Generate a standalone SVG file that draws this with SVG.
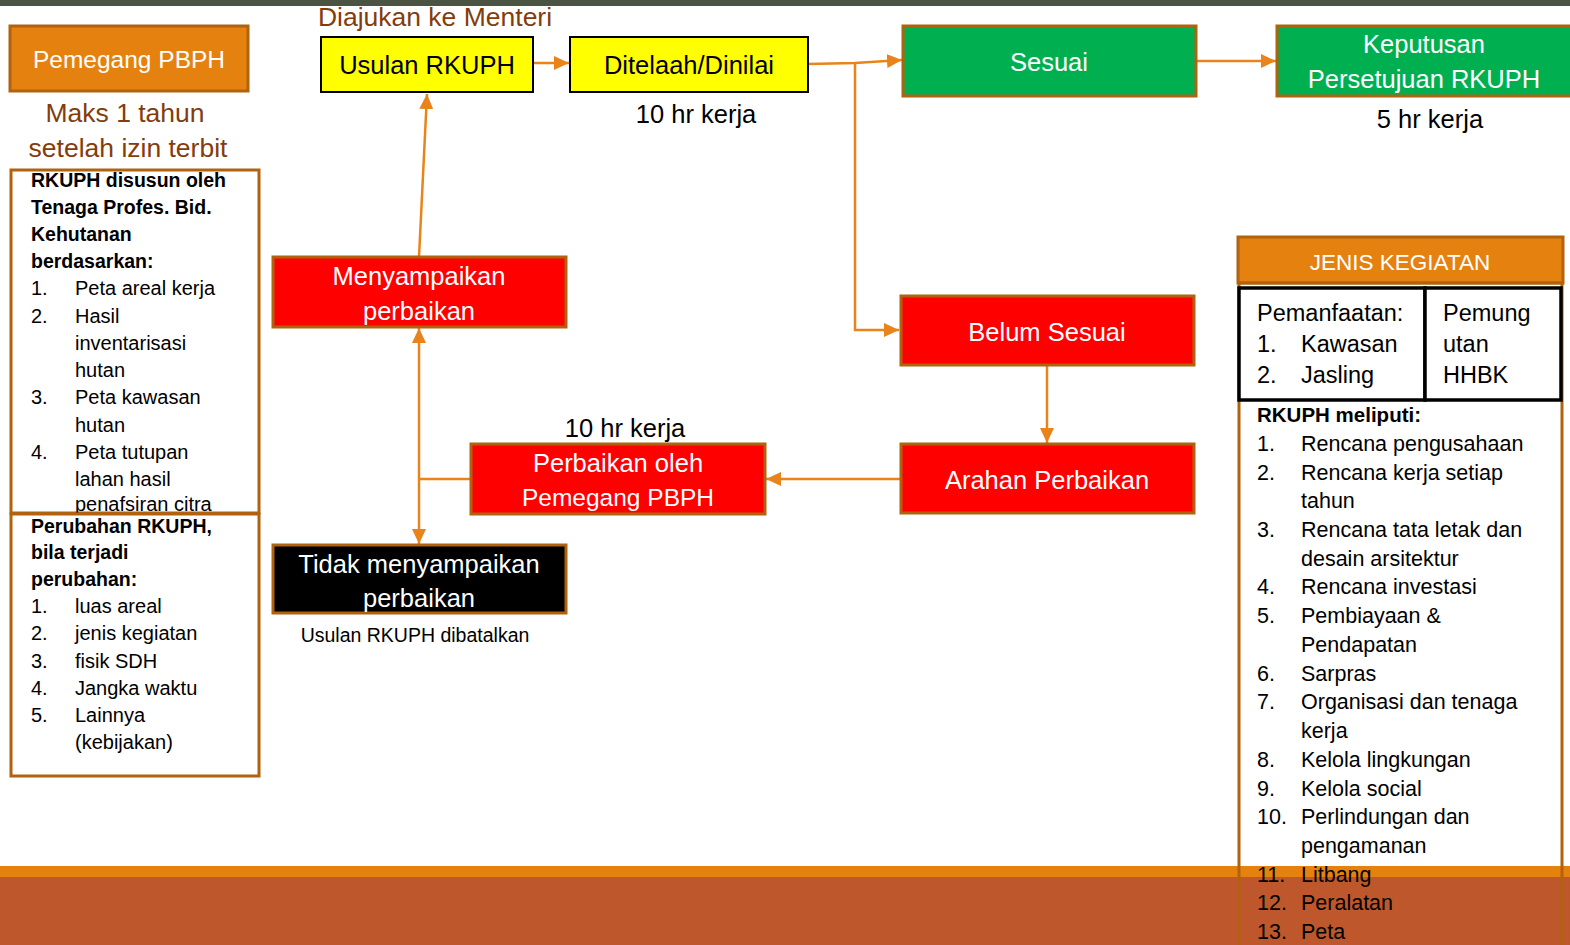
<svg xmlns="http://www.w3.org/2000/svg" width="1570" height="945" viewBox="0 0 1570 945">
<defs>
<style>
text{font-family:"Liberation Sans",Arial,sans-serif;}
.box{stroke:#B0620E;stroke-width:3;}
.org{fill:#E5820F;}
.red{fill:#FF0000;}
.grn{fill:#00B050;}
.yel{fill:#FFFF00;stroke:#000;stroke-width:2;}
.blk{fill:#000;}
.wt{fill:#fff;font-size:25.5px;text-anchor:middle;}
.bt{fill:#000;font-size:25.5px;text-anchor:middle;}
.brn{fill:#843C0C;font-size:26.5px;text-anchor:middle;}
.lt{fill:#000;font-size:20px;}
.lb{fill:#000;font-size:19.5px;font-weight:bold;}
.rt{fill:#000;font-size:21.5px;}
.rb{fill:#000;font-size:20.5px;font-weight:bold;}
.pt{fill:#000;font-size:23.5px;}
.conn{stroke:#E8841A;stroke-width:2.5;fill:none;}
</style>
<marker id="ah" markerUnits="userSpaceOnUse" markerWidth="16" markerHeight="14" refX="15" refY="7" orient="auto">
<path d="M0,0 L15,7 L0,14 z" fill="#E8841A"/>
</marker>
</defs>
<rect x="0" y="0" width="1570" height="945" fill="#fff"/>
<rect x="0" y="0" width="1570" height="6" fill="#4B5443"/>
<rect x="0" y="866" width="1570" height="11" fill="#E5820F"/>
<rect x="0" y="877" width="1570" height="68" fill="#BE582C"/>

<g id="connectors">
<line class="conn" x1="533" y1="63" x2="569" y2="63" marker-end="url(#ah)"/>
<polyline class="conn" points="808,64 855,63 902,60" marker-end="url(#ah)"/>
<polyline class="conn" points="855,63 855,330 899,330" marker-end="url(#ah)"/>
<line class="conn" x1="1196" y1="61" x2="1276" y2="61" marker-end="url(#ah)"/>
<line class="conn" x1="1047" y1="365" x2="1047" y2="443" marker-end="url(#ah)"/>
<line class="conn" x1="901" y1="479" x2="766" y2="479" marker-end="url(#ah)"/>
<line class="conn" x1="471" y1="479" x2="419" y2="479"/>
<line class="conn" x1="419" y1="479" x2="419" y2="328" marker-end="url(#ah)"/>
<line class="conn" x1="419" y1="479" x2="419" y2="544" marker-end="url(#ah)"/>
<line class="conn" x1="419" y1="257" x2="427" y2="94" marker-end="url(#ah)"/>
</g>

<g id="pemegang">
<rect class="box org" x="10" y="26" width="238" height="65"/>
<text class="wt" x="129" y="68" style="font-size:24.5px">Pemegang PBPH</text>
</g>
<g id="maks">
<text class="brn" x="125" y="122">Maks 1 tahun</text>
<text class="brn" x="128" y="157">setelah izin terbit</text>
</g>
<g id="diajukan">
<text class="brn" x="435" y="26">Diajukan ke Menteri</text>
</g>
<g id="usulan">
<rect class="yel" x="321" y="37" width="212" height="55"/>
<text class="bt" x="427" y="74">Usulan RKUPH</text>
</g>
<g id="ditelaah">
<rect class="yel" x="570" y="37" width="238" height="55"/>
<text class="bt" x="689" y="74">Ditelaah/Dinilai</text>
<text class="bt" x="696" y="123">10 hr kerja</text>
</g>
<g id="sesuai">
<rect class="box grn" x="903" y="26" width="293" height="70"/>
<text class="wt" x="1049" y="71">Sesuai</text>
</g>
<g id="keputusan">
<rect class="box grn" x="1277" y="26" width="296" height="70"/>
<text class="wt" x="1424" y="53">Keputusan</text>
<text class="wt" x="1424" y="88">Persetujuan RKUPH</text>
<text class="bt" x="1430" y="128">5 hr kerja</text>
</g>
<g id="menyampaikan">
<rect class="box red" x="273" y="257" width="293" height="70"/>
<text class="wt" x="419" y="285">Menyampaikan</text>
<text class="wt" x="419" y="320">perbaikan</text>
</g>
<g id="belum">
<rect class="box red" x="901" y="296" width="293" height="69"/>
<text class="wt" x="1047" y="341">Belum Sesuai</text>
</g>
<g id="arahan">
<rect class="box red" x="901" y="444" width="293" height="69"/>
<text class="wt" x="1047" y="489">Arahan Perbaikan</text>
</g>
<g id="perbaikan">
<rect class="box red" x="471" y="444" width="294" height="70"/>
<text class="wt" x="618" y="472">Perbaikan oleh</text>
<text class="wt" x="618" y="506" style="font-size:24.5px">Pemegang PBPH</text>
<text class="bt" x="625" y="437">10 hr kerja</text>
</g>
<g id="tidak">
<rect class="box blk" x="273" y="545" width="293" height="68"/>
<text class="wt" x="419" y="573">Tidak menyampaikan</text>
<text class="wt" x="419" y="607">perbaikan</text>
<text class="bt" x="415" y="642" style="font-size:19.5px">Usulan RKUPH dibatalkan</text>
</g>

<g id="left-box-1">
<rect x="11" y="170" width="248" height="343" fill="#fff" stroke="#B0620E" stroke-width="3"/>
<text class="lb" x="31" y="187">RKUPH disusun oleh</text>
<text class="lb" x="31" y="214">Tenaga Profes. Bid.</text>
<text class="lb" x="31" y="241">Kehutanan</text>
<text class="lb" x="31" y="268">berdasarkan:</text>
<text class="lt" x="31" y="295">1.</text><text class="lt" x="75" y="295">Peta areal kerja</text>
<text class="lt" x="31" y="323">2.</text><text class="lt" x="75" y="323">Hasil</text>
<text class="lt" x="75" y="350">inventarisasi</text>
<text class="lt" x="75" y="377">hutan</text>
<text class="lt" x="31" y="404">3.</text><text class="lt" x="75" y="404">Peta kawasan</text>
<text class="lt" x="75" y="432">hutan</text>
<text class="lt" x="31" y="459">4.</text><text class="lt" x="75" y="459">Peta tutupan</text>
<text class="lt" x="75" y="486">lahan hasil</text>
<text class="lt" x="75" y="511">penafsiran citra</text>
</g>
<g id="left-box-2">
<rect x="11" y="514" width="248" height="262" fill="none" stroke="#B0620E" stroke-width="3"/>
<text class="lb" x="31" y="533">Perubahan RKUPH,</text>
<text class="lb" x="31" y="559">bila terjadi</text>
<text class="lb" x="31" y="586">perubahan:</text>
<text class="lt" x="31" y="613">1.</text><text class="lt" x="75" y="613">luas areal</text>
<text class="lt" x="31" y="640">2.</text><text class="lt" x="75" y="640">jenis kegiatan</text>
<text class="lt" x="31" y="668">3.</text><text class="lt" x="75" y="668">fisik SDH</text>
<text class="lt" x="31" y="695">4.</text><text class="lt" x="75" y="695">Jangka waktu</text>
<text class="lt" x="31" y="722">5.</text><text class="lt" x="75" y="722">Lainnya</text>
<text class="lt" x="75" y="749">(kebijakan)</text>
</g>

<g id="jenis-kegiatan">
<rect class="box org" x="1238" y="237" width="325" height="46"/>
<text class="wt" x="1400" y="270" style="font-size:22.5px">JENIS KEGIATAN</text>
</g>
<g id="rkuph-meliputi">
<rect x="1239" y="283" width="323" height="700" fill="none" stroke="#B0620E" stroke-width="3"/>
<text class="rb" x="1257" y="422">RKUPH meliputi:</text>
<text class="rt" x="1257" y="451">1.</text><text class="rt" x="1301" y="451">Rencana pengusahaan</text>
<text class="rt" x="1257" y="480">2.</text><text class="rt" x="1301" y="480">Rencana kerja setiap</text>
<text class="rt" x="1301" y="508">tahun</text>
<text class="rt" x="1257" y="537">3.</text><text class="rt" x="1301" y="537">Rencana tata letak dan</text>
<text class="rt" x="1301" y="566">desain arsitektur</text>
<text class="rt" x="1257" y="594">4.</text><text class="rt" x="1301" y="594">Rencana investasi</text>
<text class="rt" x="1257" y="623">5.</text><text class="rt" x="1301" y="623">Pembiayaan &amp;</text>
<text class="rt" x="1301" y="652">Pendapatan</text>
<text class="rt" x="1257" y="681">6.</text><text class="rt" x="1301" y="681">Sarpras</text>
<text class="rt" x="1257" y="709">7.</text><text class="rt" x="1301" y="709">Organisasi dan tenaga</text>
<text class="rt" x="1301" y="738">kerja</text>
<text class="rt" x="1257" y="767">8.</text><text class="rt" x="1301" y="767">Kelola lingkungan</text>
<text class="rt" x="1257" y="796">9.</text><text class="rt" x="1301" y="796">Kelola social</text>
<text class="rt" x="1257" y="824">10.</text><text class="rt" x="1301" y="824">Perlindungan dan</text>
<text class="rt" x="1301" y="853">pengamanan</text>
<text class="rt" x="1257" y="882">11.</text><text class="rt" x="1301" y="882">Litbang</text>
<text class="rt" x="1257" y="910">12.</text><text class="rt" x="1301" y="910">Peralatan</text>
<text class="rt" x="1257" y="939">13.</text><text class="rt" x="1301" y="939">Peta</text>
</g>
<g id="pemanfaatan">
<rect x="1239" y="288" width="186" height="112" fill="#fff" stroke="#000" stroke-width="3.5"/>
<text class="pt" x="1257" y="321">Pemanfaatan:</text>
<text class="pt" x="1257" y="352">1.</text><text class="pt" x="1301" y="352">Kawasan</text>
<text class="pt" x="1257" y="383">2.</text><text class="pt" x="1301" y="383">Jasling</text>
</g>
<g id="pemungutan">
<rect x="1425" y="288" width="136" height="112" fill="#fff" stroke="#000" stroke-width="3.5"/>
<text class="pt" x="1443" y="321">Pemung</text>
<text class="pt" x="1443" y="352">utan</text>
<text class="pt" x="1443" y="383">HHBK</text>
</g>
</svg>
